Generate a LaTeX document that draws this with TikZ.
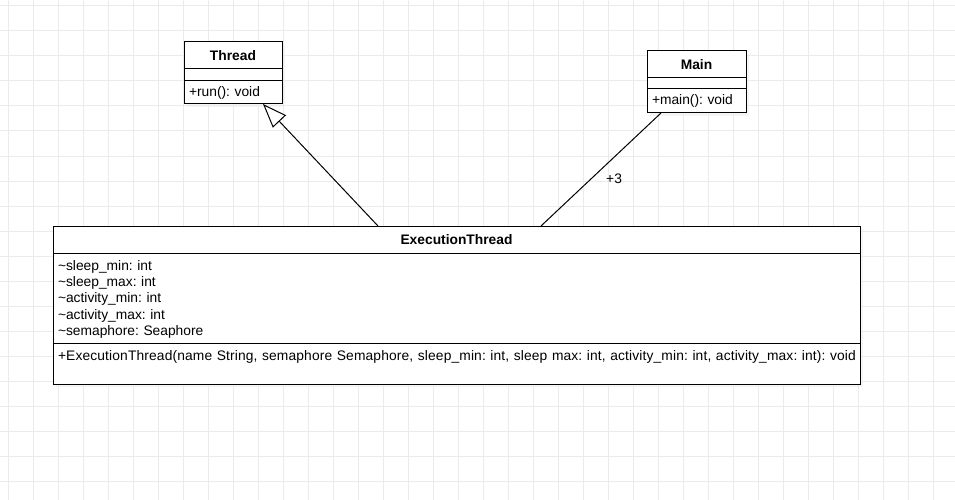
\documentclass[tikz,border=0pt]{standalone}
\usepackage{fontspec}
\setmainfont{Liberation Sans}
\usetikzlibrary{positioning,shadows,arrows.meta}

\newcommand{\umlfont}{\fontsize{13.8}{16.4}\selectfont\frenchspacing}

\tikzset{
  classbox/.style={draw=black, fill=white, line width=1pt, outer sep=0pt,
    font=\umlfont,
    drop shadow={shadow xshift=3pt, shadow yshift=-3pt, fill=black!7}},
  classhead/.style={classbox, font=\umlfont\bfseries,
    minimum height=27pt, inner sep=0pt},
  classpart/.style={classbox, inner xsep=5pt, inner ysep=0pt, align=left},
  gridline/.style={draw=black!8, line width=1pt}
}

\begin{document}
\begin{tikzpicture}[x=1pt,y=-1pt]
\useasboundingbox (0,0) rectangle (955,500);
\fill[white] (0,0) rectangle (955,500);

% Grelha
\foreach \gx in {8,33,...,958} {
    \draw[gridline] (\gx,0) -- (\gx,500);
}
\foreach \gy in {6,31,...,506} {
    \draw[gridline] (0,\gy) -- (955,\gy);
}

% Thread
\node[classhead, minimum width=98pt, anchor=north west] (thread) at (184,42) {Thread};
\node[classpart, minimum width=98pt, minimum height=12pt, below=0pt of thread] (threadattr) {};
\node[classpart, text width=88pt, minimum height=23pt, below=0pt of threadattr] (threadops) {+run(): void};

% Main
\node[classhead, minimum width=99pt, anchor=north west] (main) at (647,51) {Main};
\node[classpart, minimum width=99pt, minimum height=11pt, below=0pt of main] (mainattr) {};
\node[classpart, text width=89pt, minimum height=24pt, below=0pt of mainattr] (mainops) {+main(): void};

% ExecutionThread
\node[classhead, minimum width=807pt, anchor=north west] (exec) at (53,226) {ExecutionThread};
\node[classpart, text width=797pt, inner ysep=6pt, text height=11pt, text depth=67pt,
  below=0pt of exec] (execattr) {%
\textasciitilde sleep\_min: int\\
\textasciitilde sleep\_max: int\\
\textasciitilde activity\_min: int\\
\textasciitilde activity\_max: int\\
\textasciitilde semaphore: Seaphore};
\node[classpart, text width=797pt, inner ysep=4pt, text height=13pt, text depth=20pt,
  below=0pt of execattr] (execops) {\addfontfeature{LetterSpace=1.0}\mbox{+ExecutionThread(name String, semaphore Semaphore, sleep\_min: int, sleep max: int, activity\_min: int, activity\_max: int): void}};

% Heranca
\draw[line width=1pt, -{Triangle[length=24pt, width=18pt, fill=white]}]
  ([xshift=325pt]exec.north west) -- ([xshift=79pt]threadops.south west);

% Associacao
\draw[line width=1pt] ([xshift=14pt]mainops.south west) -- ([xshift=488pt]exec.north west)
  node[pos=0.58, right=11pt, font=\umlfont] (mult) {+3};
\end{tikzpicture}
\end{document}
